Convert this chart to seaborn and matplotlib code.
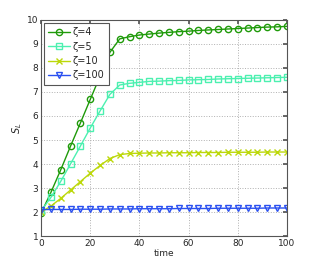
import numpy as np
import pandas as pd
import matplotlib
matplotlib.use('Agg')
import matplotlib.pyplot as plt
import seaborn as sns

# sample times (every 4 time units)
time = list(range(0, 101, 4))

# S_L values
zeta4 = [1.95, 2.82, 3.76, 4.75, 5.71, 6.69, 7.66, 8.65, 9.21, 9.30, 9.37, 9.41, 9.45,
         9.48, 9.51, 9.53, 9.56, 9.58, 9.60, 9.62, 9.64, 9.66, 9.68, 9.70, 9.71, 9.73]
zeta5 = [2.05, 2.61, 3.28, 4.01, 4.75, 5.50, 6.21, 6.90, 7.29, 7.36, 7.40, 7.44, 7.45,
         7.47, 7.48, 7.50, 7.51, 7.52, 7.54, 7.55, 7.56, 7.57, 7.58, 7.59, 7.60, 7.61]
zeta10 = [2.00, 2.25, 2.57, 2.92, 3.27, 3.62, 3.94, 4.23, 4.39, 4.44, 4.45, 4.46, 4.46,
          4.47, 4.47, 4.47, 4.48, 4.48, 4.48, 4.49, 4.49, 4.49, 4.49, 4.50, 4.50, 4.50]
zeta100 = [2.10, 2.11, 2.11, 2.11, 2.12, 2.12, 2.12, 2.13, 2.13, 2.13, 2.14, 2.14, 2.14,
           2.14, 2.15, 2.15, 2.15, 2.15, 2.16, 2.16, 2.16, 2.16, 2.16, 2.17, 2.17, 2.17]

labels = ['ζ=4', 'ζ=5', 'ζ=10', 'ζ=100']
series = [zeta4, zeta5, zeta10, zeta100]
colors = ['#1f9a0a', '#4cf0b0', '#bcd80a', '#2a50f0']
markers = ['o', 's', 'x', 'v']

sns.set_theme(style='white')
plt.rcParams['font.family'] = ['DejaVu Sans']

fig = plt.figure(figsize=(3.16, 2.65), dpi=100)
ax = fig.add_axes([0.13, 0.109, 0.778, 0.816])

for lab, vals, c, m in zip(labels, series, colors, markers):
    df = pd.DataFrame({'time': time, 'S': vals})
    sns.lineplot(data=df, x='time', y='S', ax=ax, color=c, marker=m,
                 markersize=4.5, markerfacecolor='none', markeredgecolor=c,
                 markeredgewidth=1.0, linewidth=1.0, label=lab)

ax.set_xlim(0, 100)
ax.set_ylim(1, 10)
ax.set_xticks([0, 20, 40, 60, 80, 100])
ax.set_yticks(range(1, 11))
ax.grid(True, linestyle=':', color='#b0b0b0', linewidth=0.7)
ax.tick_params(axis='both', labelsize=6.5, direction='in', length=3, pad=2,
               color='#555555', top=True, right=True)
for s in ax.spines.values():
    s.set_color('#555555')
    s.set_linewidth(0.8)
ax.set_xlabel('time', fontsize=6.5, labelpad=1)
ax.set_ylabel('$S_L$', fontsize=7, labelpad=2)

leg = ax.legend(loc='upper left', fontsize=7, frameon=True, fancybox=False,
                framealpha=1, edgecolor='#555555', handlelength=2.2,
                handletextpad=0.3, borderpad=0.45, labelspacing=0.45,
                borderaxespad=0.3)
leg.get_frame().set_linewidth(0.8)

fig.savefig('out.png', dpi=100)
